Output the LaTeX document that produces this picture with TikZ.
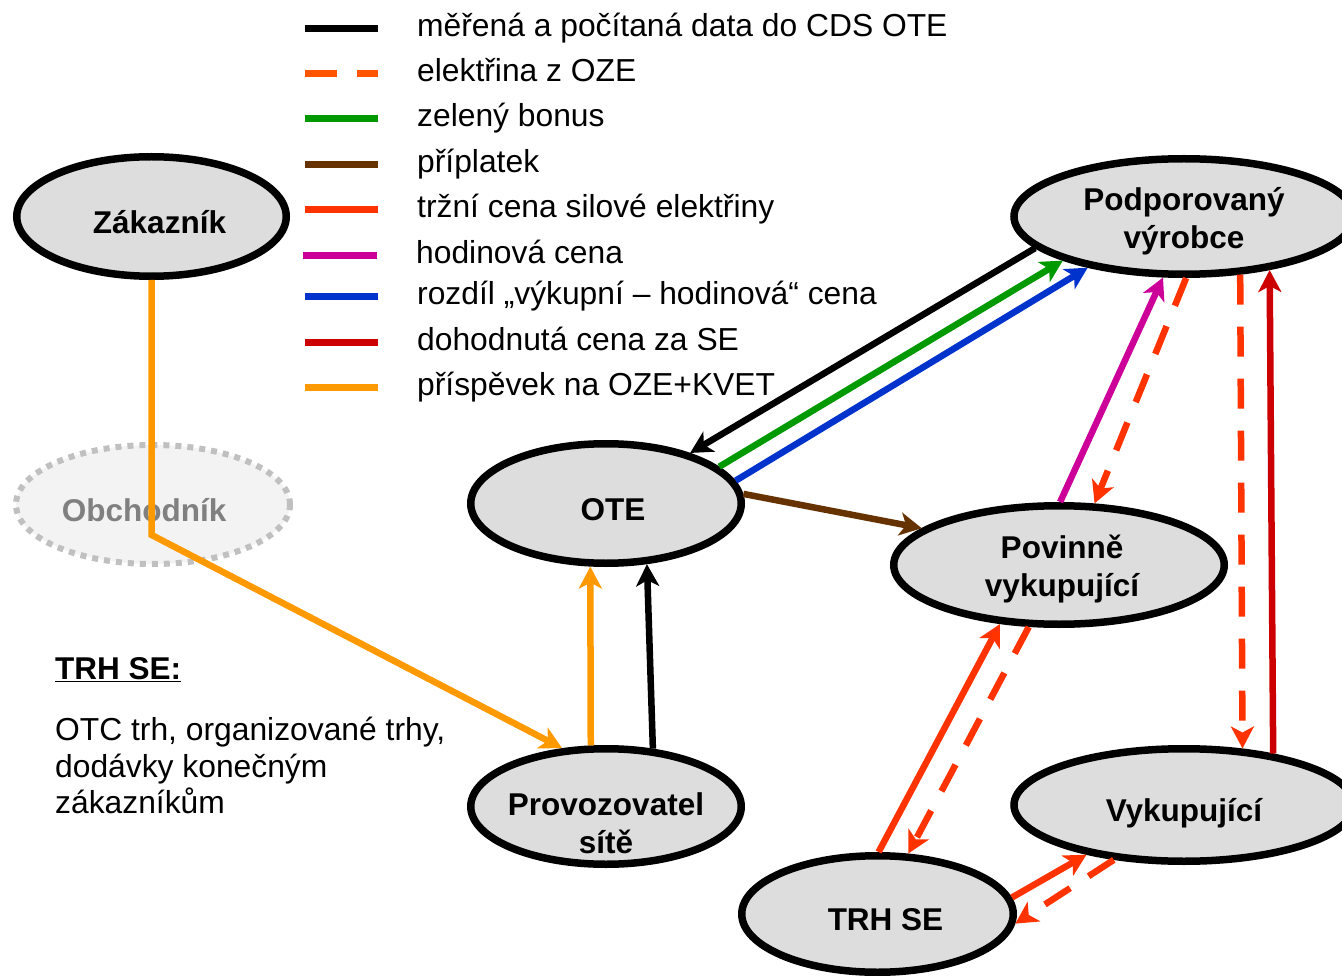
\documentclass[tikz,border=0pt]{standalone}
\usepackage{fontspec}
\setmainfont{Liberation Sans}
\usetikzlibrary{shapes.geometric,arrows.meta}
\definecolor{cOrange}{HTML}{FF3300}
\definecolor{cLegDash}{HTML}{FF5500}
\definecolor{cGreen}{HTML}{009900}
\definecolor{cBrown}{HTML}{663300}
\definecolor{cMagenta}{HTML}{CC0099}
\definecolor{cBlue}{HTML}{0033CC}
\definecolor{cRed}{HTML}{CC0000}
\definecolor{cAmber}{HTML}{FF9900}
\definecolor{nodefill}{HTML}{DDDDDD}
\definecolor{ghostfill}{HTML}{F3F3F3}
\definecolor{ghostline}{HTML}{C0C0C0}
\definecolor{ghosttext}{HTML}{808080}
\begin{document}
\begin{tikzpicture}[x=1pt,y=-1pt,
  ell/.style={ellipse, draw=black, line width=7.5pt, fill=nodefill, inner sep=0pt},
  lbl/.style={font=\fontsize{31.5}{38}\selectfont\bfseries, align=center, inner sep=0pt},
  txt/.style={font=\fontsize{31.8}{37}\selectfont, inner sep=0pt, anchor=base west},
  con/.style={line width=6.5pt},
  arr/.style={-{Stealth[length=22pt,width=23pt,inset=6pt]}},
  dsh/.style={dash pattern=on 30pt off 22pt},
  leg/.style={line width=7pt}
]
\useasboundingbox (0,0) rectangle (1342,976);
\clip (0,0) rectangle (1342,976);

% ---- legend ----
\draw[leg, black]    (305,28.3)  -- (378,28.3);
\draw[leg, cLegDash, dash pattern=on 32pt off 20pt] (305,73.3) -- (378,73.3);
\draw[leg, cGreen]   (305,119)   -- (378,119);
\draw[leg, cBrown]   (305,164.3) -- (378,164.3);
\draw[leg, cOrange]  (305,210)   -- (378,210);
\draw[leg, cMagenta] (303,256)   -- (377,256);
\draw[leg, cBlue]    (305,296.7) -- (378,296.7);
\draw[leg, cRed]     (305,342.7) -- (378,342.7);
\draw[leg, cAmber]   (305,387.7) -- (378,387.7);

\node[txt] (l1) at (417,36.5)  {měřená a počítaná data do CDS OTE};
\node[txt] (l2) at (417,81.5)  {elektřina z OZE};
\node[txt] (l3) at (417,127)   {zelený bonus};
\node[txt] (l4) at (417,172.3) {příplatek};
\node[txt] (l5) at (417,218)   {tržní cena silové elektřiny};
\node[txt] (l6) at (416,264)   {hodinová cena};
\node[txt] (l7) at (417,304.7) {rozdíl „výkupní – hodinová“ cena};
\node[txt] (l8) at (417,350.7) {dohodnutá cena za SE};
\node[txt] (l9) at (417,395.7) {příspěvek na OZE+KVET};

% ---- left text ----
\node[txt, font=\fontsize{31.5}{37}\selectfont\bfseries] (trhT) at (55,679) {\underline{TRH SE:}};
\node[txt] (p1) at (55,740) {OTC trh, organizované trhy,};
\node[txt] (p2) at (55,777) {dodávky konečným};
\node[txt] (p3) at (55,813) {zákazníkům};

% ---- nodes ----
\node[ell, minimum width=269.5pt, minimum height=119.5pt,
  label={[lbl,xshift=8pt,yshift=-5.5pt]center:Zákazník}] (zak) at (151.5,216.5) {};
\node[ellipse, draw=ghostline, line width=6pt, dash pattern=on 6pt off 6pt, fill=ghostfill,
  inner sep=0pt, minimum width=274pt, minimum height=119pt,
  label={[lbl,text=ghosttext,xshift=-9pt,yshift=-5.5pt]center:Obchodník}] (obch) at (153,504.5) {};
\node[ell, minimum width=270.5pt, minimum height=119.5pt,
  label={[lbl,xshift=7pt,yshift=-6.5pt]center:OTE}] (ote) at (606,503.5) {};
\node[ell, minimum width=340pt, minimum height=115.5pt,
  label={[lbl,yshift=-5pt]center:{Podporovaný\\výrobce}}] (pv) at (1184,216.5) {};
\node[ell, minimum width=330.5pt, minimum height=118.5pt,
  label={[lbl,xshift=3pt,yshift=-4pt]center:{Povinně\\vykupující}}] (pov) at (1059,565) {};
\node[ell, minimum width=270.5pt, minimum height=115.5pt,
  label={[lbl,yshift=-17pt]center:{Provozovatel\\sítě}}] (prov) at (606,806.5) {};
\node[ell, minimum width=340pt, minimum height=112.5pt,
  label={[lbl,yshift=-8pt]center:Vykupující}] (vyk) at (1184,805) {};
\node[ell, minimum width=271.5pt, minimum height=116.5pt,
  label={[lbl,xshift=8pt,yshift=-6pt]center:TRH SE}] (trh) at (877.5,914) {};

\coordinate (bend) at (151.7,535);

% ---- connectors ----
\draw[con, arr, black]    (pv.192.95) -- (ote.31.8);
\draw[con, arr, cGreen]   (ote.18.65) -- (pv.200.5);
\draw[con, arr, cBlue]    (ote.10.3)  -- (pv.208.9);
\draw[con, arr, cBrown]   (ote.4.5)   -- (pov.165.9);
\draw[con, arr, cMagenta] (pov.89)    -- (pv.251.5);
\draw[con, arr, dsh, cOrange] (pv.272.6) -- (pov.60.9);
\draw[con, arr, dsh, cOrange] (pv.314.85) -- (vyk.44.45);
\draw[con, arr, cRed]     (vyk.30.57) -- (pv.328.81);
\draw[con, arr, cOrange]  (trh.89.3)  -- (pov.225.5);
\draw[con, arr, dsh, cOrange] (pov.244.1) -- (trh.63.1);
\draw[con, arr, cOrange]  (trh.7.3)   -- (vyk.207.6);
\draw[con, arr, dsh, cOrange] (vyk.218.7) -- (trh.356.1);
\draw[con, arr, cAmber]   (zak.south) -- (bend) -- (prov.127);
\draw[con, arr, cAmber]   (prov.104.06) -- (ote.256.37);
\draw[con, arr, black]    (prov.51.80) -- (ote.304.96);
\end{tikzpicture}
\end{document}
